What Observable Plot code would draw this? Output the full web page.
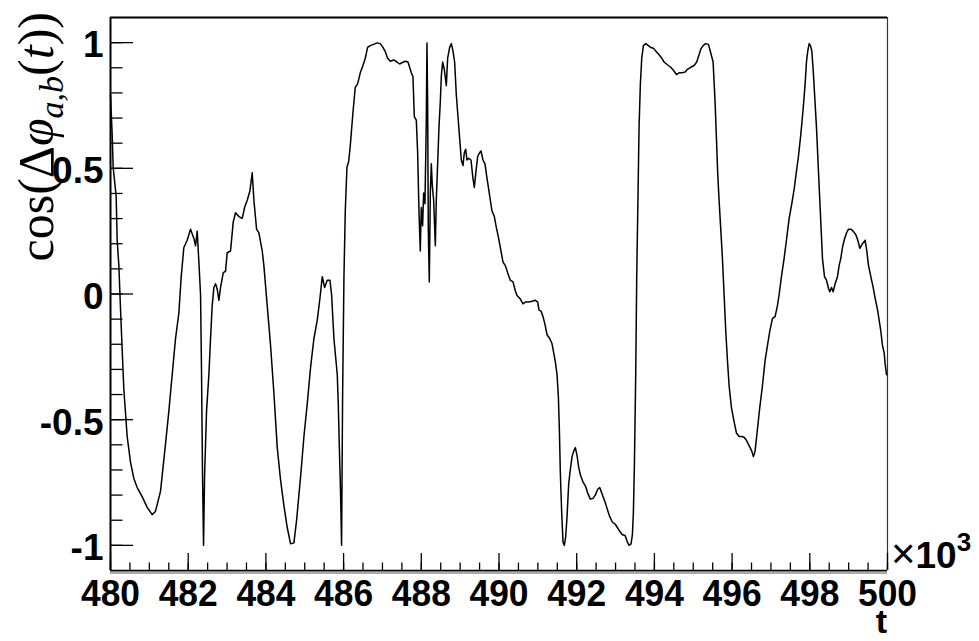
<!DOCTYPE html>
<html>
<head>
<meta charset="utf-8">
<script src="https://cdn.jsdelivr.net/npm/d3@7"></script>
<script src="https://cdn.jsdelivr.net/npm/@observablehq/plot@0.6"></script>
<style>
  html, body { margin: 0; padding: 0; background: #fff; }
  #chart { width: 979px; height: 641px; }
</style>
</head>
<body>
<div id="chart"></div>
<script>
// time in units of 10^3
const tValues = [
  480.000,480.043,480.069,480.146,480.172,480.215,480.258,480.300,480.343,480.429,
  480.515,480.601,480.687,480.815,480.944,481.073,481.159,481.288,481.416,481.502,
  481.588,481.674,481.760,481.820,481.888,481.974,482.060,482.146,482.189,482.232,
  482.275,482.318,482.343,482.369,482.395,482.421,482.472,482.532,482.575,482.618,
  482.661,482.704,482.747,482.790,482.833,482.901,482.961,483.004,483.090,483.159,
  483.219,483.305,483.391,483.451,483.519,483.588,483.648,483.691,483.760,483.820,
  483.906,483.948,484.034,484.120,484.206,484.292,484.378,484.464,484.549,484.635,
  484.721,484.790,484.893,484.979,485.064,485.150,485.236,485.322,485.391,485.451,
  485.511,485.579,485.648,485.691,485.751,485.837,485.863,485.888,485.923,485.948,
  485.974,486.009,486.043,486.086,486.129,486.172,486.240,486.300,486.361,486.429,
  486.498,486.558,486.618,486.687,486.773,486.858,486.944,487.013,487.073,487.133,
  487.202,487.288,487.373,487.442,487.502,487.588,487.657,487.700,487.742,487.785,
  487.820,487.871,487.906,487.940,487.974,488.000,488.034,488.060,488.094,488.129,
  488.146,488.163,488.180,488.206,488.232,488.258,488.283,488.318,488.361,488.386,
  488.421,488.455,488.489,488.515,488.549,488.592,488.644,488.678,488.730,488.773,
  488.815,488.858,488.901,488.944,488.987,489.030,489.073,489.107,489.142,489.176,
  489.219,489.279,489.330,489.365,489.408,489.451,489.502,489.536,489.588,489.639,
  489.691,489.734,489.777,489.820,489.880,489.931,489.991,490.034,490.103,490.163,
  490.223,490.292,490.361,490.421,490.464,490.549,490.618,490.678,490.764,490.850,
  490.936,490.996,491.030,491.082,491.133,491.185,491.236,491.305,491.365,491.408,
  491.451,491.494,491.528,491.554,491.579,491.614,491.648,491.682,491.717,491.751,
  491.794,491.837,491.880,491.923,491.966,492.009,492.052,492.094,492.163,492.223,
  492.283,492.352,492.421,492.481,492.541,492.592,492.661,492.730,492.790,492.850,
  492.918,492.987,493.047,493.107,493.176,493.245,493.305,493.348,493.399,493.433,
  493.459,493.485,493.519,493.545,493.579,493.605,493.639,493.674,493.717,493.777,
  493.845,493.906,493.974,494.034,494.120,494.189,494.249,494.335,494.421,494.506,
  494.567,494.635,494.721,494.790,494.850,494.936,495.021,495.090,495.150,495.193,
  495.253,495.322,495.391,495.451,495.511,495.562,495.597,495.631,495.665,495.708,
  495.751,495.794,495.837,495.880,495.923,495.983,496.052,496.112,496.180,496.249,
  496.309,496.369,496.438,496.506,496.549,496.592,496.652,496.712,496.781,496.850,
  496.910,496.970,497.039,497.107,497.167,497.210,497.270,497.339,497.399,497.468,
  497.536,497.597,497.657,497.708,497.768,497.828,497.880,497.914,497.948,497.983,
  498.017,498.052,498.086,498.129,498.172,498.206,498.240,498.283,498.326,498.378,
  498.429,498.481,498.515,498.558,498.601,498.652,498.712,498.755,498.798,498.841,
  498.884,498.944,498.996,499.056,499.116,499.185,499.236,499.288,499.356,499.425,
  499.468,499.511,499.571,499.631,499.682,499.742,499.785,499.828,499.871,499.914,
  499.940,499.974
];
const cosValues = [
  0.793,0.634,0.504,0.388,0.214,0.113,-0.061,-0.220,-0.379,-0.567,
  -0.669,-0.734,-0.770,-0.806,-0.849,-0.878,-0.864,-0.784,-0.596,-0.466,
  -0.321,-0.177,-0.075,0.069,0.185,0.214,0.258,0.221,0.192,0.250,
  0.127,-0.003,-0.307,-0.726,-1.000,-0.726,-0.466,-0.321,-0.177,-0.046,
  0.026,0.041,0.019,-0.025,0.026,0.084,0.091,0.164,0.171,0.287,
  0.323,0.308,0.301,0.344,0.373,0.410,0.482,0.373,0.258,0.243,
  0.171,0.113,-0.046,-0.205,-0.394,-0.611,-0.741,-0.842,-0.929,-0.994,
  -0.990,-0.900,-0.726,-0.567,-0.437,-0.292,-0.177,-0.104,-0.017,0.069,
  0.026,0.055,0.055,-0.003,-0.177,-0.321,-0.437,-0.596,-0.799,-1.000,
  -0.408,0.069,0.330,0.504,0.525,0.590,0.721,0.822,0.836,0.880,
  0.909,0.938,0.981,0.988,0.993,0.999,0.996,0.981,0.964,0.938,
  0.926,0.931,0.923,0.915,0.920,0.926,0.923,0.902,0.880,0.865,
  0.706,0.692,0.562,0.330,0.171,0.344,0.272,0.402,0.359,0.692,
  0.999,0.764,0.258,0.048,0.402,0.518,0.431,0.373,0.192,0.373,
  0.518,0.663,0.764,0.865,0.923,0.894,0.829,0.938,0.981,0.996,
  0.967,0.923,0.793,0.706,0.619,0.533,0.511,0.562,0.576,0.533,
  0.540,0.533,0.460,0.424,0.489,0.547,0.562,0.569,0.533,0.518,
  0.460,0.417,0.373,0.330,0.308,0.265,0.221,0.185,0.127,0.113,
  0.084,0.055,0.048,0.012,-0.006,-0.020,-0.039,-0.032,-0.032,-0.029,
  -0.025,-0.032,-0.064,-0.068,-0.090,-0.122,-0.162,-0.177,-0.198,-0.234,
  -0.271,-0.321,-0.408,-0.538,-0.712,-0.871,-0.987,-1.000,-0.965,-0.886,
  -0.755,-0.698,-0.647,-0.625,-0.611,-0.643,-0.690,-0.719,-0.748,-0.763,
  -0.792,-0.816,-0.813,-0.799,-0.777,-0.770,-0.799,-0.828,-0.857,-0.886,
  -0.907,-0.915,-0.929,-0.944,-0.958,-0.961,-0.987,-1.000,-0.994,-0.958,
  -0.871,-0.683,-0.321,0.069,0.402,0.663,0.836,0.938,0.988,0.996,
  0.988,0.981,0.978,0.967,0.952,0.938,0.923,0.912,0.902,0.887,
  0.873,0.880,0.880,0.883,0.894,0.902,0.909,0.923,0.952,0.974,
  0.988,0.996,0.993,0.959,0.923,0.764,0.619,0.475,0.373,0.258,
  0.142,-0.003,-0.148,-0.263,-0.365,-0.452,-0.509,-0.553,-0.567,-0.567,
  -0.570,-0.582,-0.603,-0.625,-0.647,-0.625,-0.538,-0.452,-0.365,-0.263,
  -0.205,-0.148,-0.097,-0.090,-0.046,-0.003,0.069,0.142,0.214,0.301,
  0.359,0.417,0.489,0.547,0.634,0.735,0.836,0.923,0.967,0.996,
  0.988,0.967,0.894,0.779,0.663,0.547,0.431,0.287,0.142,0.069,
  0.055,0.023,0.009,0.026,0.009,0.041,0.069,0.113,0.142,0.185,
  0.214,0.243,0.258,0.258,0.250,0.236,0.214,0.182,0.200,0.214,
  0.171,0.113,0.069,0.026,-0.017,-0.061,-0.104,-0.148,-0.205,-0.234,
  -0.278,-0.321
];

const xMajorTicks = [480, 482, 484, 486, 488, 490, 492, 494, 496, 498, 500];
const xTickLabels = ["480", "482", "484", "486", "488", "490", "492", "494", "496", "498", "500"];
const yMajorTicks = [-1, -0.5, 0, 0.5, 1];
const yTickLabels = ["-1", "-0.5", "0", "0.5", "1"];
const xMinorTicks = d3.range(0, 41).map(i => 480 + i * 0.5);
const yMinorTicks = d3.range(-10, 11).map(i => i / 10);

const data = tValues.map((t, i) => ({t, v: cosValues[i]}));

const W = 979, H = 641;
const mL = 110, mR = 92, mT = 17, mB = 71;
const frameW = W - mL - mR, frameH = H - mT - mB;

const labelFont = {fontFamily: "Liberation Sans, Arial, sans-serif", fontWeight: "bold", fontSize: 37};

const chart = Plot.plot({
  width: W, height: H,
  marginLeft: mL, marginRight: mR, marginTop: mT, marginBottom: mB,
  style: {background: "#fff", color: "#000", fontFamily: "Liberation Sans, Arial, sans-serif"},
  x: {domain: [480, 500], label: null},
  y: {domain: [-1.1, 1.1], label: null},
  marks: [
    // frame shadow + frame
    Plot.ruleY([-1.1], {stroke: "#aaaaaa", strokeWidth: 3, dy: 2}),
    Plot.ruleX([500], {stroke: "#333", strokeWidth: 1.2}),
    Plot.ruleY([1.1], {stroke: "#000", strokeWidth: 2}),
    Plot.ruleY([-1.1], {stroke: "#000", strokeWidth: 1.5}),
    Plot.ruleX([480], {stroke: "#000", strokeWidth: 2}),
    // y ticks (inside)
    Plot.tickY(yMinorTicks, {y: d => d, insetRight: frameW - 12.5, stroke: "#000", strokeWidth: 1.3}),
    Plot.tickY(yMajorTicks, {y: d => d, insetRight: frameW - 23, stroke: "#000", strokeWidth: 1.3}),
    // x ticks (inside)
    Plot.tickX(xMinorTicks, {x: d => d, insetTop: frameH - 7.5, stroke: "#000", strokeWidth: 1.3}),
    Plot.tickX(xMajorTicks, {x: d => d, insetTop: frameH - 17, stroke: "#000", strokeWidth: 1.3}),
    // labels
    Plot.axisY({ticks: yMajorTicks, tickSize: 0, tickPadding: 7, label: null,
      tickFormat: d => yTickLabels[yMajorTicks.indexOf(d)], ...labelFont, dy: 3}),
    Plot.axisX({ticks: xMajorTicks, tickSize: 0, tickPadding: 9, label: null,
      tickFormat: d => xTickLabels[xMajorTicks.indexOf(d)], ...labelFont}),
    // the curve
    Plot.line(data, {x: "t", y: "v", stroke: "#000", strokeWidth: 1.5, curve: "linear"})
  ]
});

document.getElementById("chart").appendChild(chart);

const svg = d3.select(chart);
svg.selectAll('[aria-label="x-axis tick label"] text')
  .attr("textLength", 59).attr("lengthAdjust", "spacingAndGlyphs");

const xs = chart.scale("x"), ys = chart.scale("y");
const xRight = xs.apply(500);
const yBottom = ys.apply(-1.1);

// ×10^3 exponent label
const ex = svg.append("text")
  .attr("x", xRight + 4).attr("y", yBottom - 2)
  .attr("text-anchor", "start")
  .attr("font-family", "Liberation Sans, Arial, sans-serif")
  .attr("fill", "#000");
ex.append("tspan").attr("font-size", 42).attr("font-weight", "normal").text("×");
ex.append("tspan").attr("font-size", 37).attr("font-weight", "bold").text("10");
ex.append("tspan").attr("font-size", 26).attr("font-weight", "bold").attr("dy", -17).text("3");

// x axis title "t"
svg.append("text")
  .attr("x", xRight).attr("y", yBottom + 63)
  .attr("text-anchor", "end")
  .attr("font-family", "Liberation Sans, Arial, sans-serif")
  .attr("font-weight", "bold").attr("font-size", 34)
  .attr("fill", "#000").text("t");

// y axis title cos(Δφ_{a,b}(t))
const yt = svg.append("text")
  .attr("transform", `translate(53, ${ys.apply(1.1) - 5}) rotate(-90)`)
  .attr("text-anchor", "end")
  .attr("font-family", "Liberation Serif, 'DejaVu Serif', serif")
  .attr("font-size", 50)
  .attr("fill", "#000");
yt.append("tspan").text("cos(Δ");
yt.append("tspan").attr("font-style", "italic").text("φ");
yt.append("tspan").attr("font-style", "italic").attr("font-size", 34).attr("dy", 10).text("a,b");
yt.append("tspan").attr("dy", -10).text("(");
yt.append("tspan").attr("font-style", "italic").text("t");
yt.append("tspan").text("))");
</script>
</body>
</html>
